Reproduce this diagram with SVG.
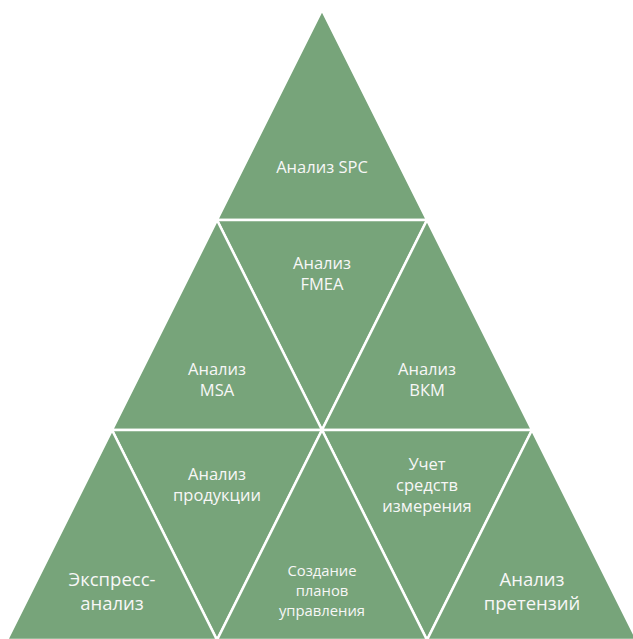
<svg xmlns="http://www.w3.org/2000/svg" width="633" height="639" viewBox="0 0 633 639">
<style>
.t{fill:#77A47A;stroke:#FFFFFF;stroke-width:2.5;stroke-linejoin:miter}
.l{font-family:"Open Sans","Liberation Sans",sans-serif;fill:#F7F7F7;text-anchor:middle}
.m{font-size:16.5px}
.b{font-size:18.5px}
.s{font-size:14.8px}
</style>
<rect width="633" height="639" fill="#FFFFFF"/>
<g id="tri-spc"><polygon class="t" points="322,10 427,220 217,220"/><text class="l m" x="322" y="173">Анализ SPC</text></g>
<g id="tri-fmea"><polygon class="t" points="217,220 427,220 322,430"/><text class="l m" x="322" y="269">Анализ</text><text class="l m" x="322" y="290">FMEA</text></g>
<g id="tri-msa"><polygon class="t" points="217,220 322,430 112,430"/><text class="l m" x="217" y="375">Анализ</text><text class="l m" x="217" y="396">MSA</text></g>
<g id="tri-vkm"><polygon class="t" points="427,220 532,430 322,430"/><text class="l m" x="427" y="375">Анализ</text><text class="l m" x="427" y="396">ВКМ</text></g>
<g id="tri-prod"><polygon class="t" points="112,430 322,430 217,640"/><text class="l m" x="217" y="480">Анализ</text><text class="l m" x="217" y="501">продукции</text></g>
<g id="tri-uchet"><polygon class="t" points="322,430 532,430 427,640"/><text class="l m" x="427" y="470">Учет</text><text class="l m" x="427" y="491">средств</text><text class="l m" x="427" y="512">измерения</text></g>
<g id="tri-express"><polygon class="t" points="112,430 217,640 7,640"/><text class="l b" x="112" y="586">Экспресс-</text><text class="l b" x="112" y="610">анализ</text></g>
<g id="tri-plans"><polygon class="t" points="322,430 427,640 217,640"/><text class="l s" x="322" y="576">Создание</text><text class="l s" x="322" y="596">планов</text><text class="l s" x="322" y="616">управления</text></g>
<g id="tri-claims"><polygon class="t" points="532,430 637,640 427,640"/><text class="l b" x="532" y="586">Анализ</text><text class="l b" x="532" y="610">претензий</text></g>
<g id="connectors"></g>
</svg>
